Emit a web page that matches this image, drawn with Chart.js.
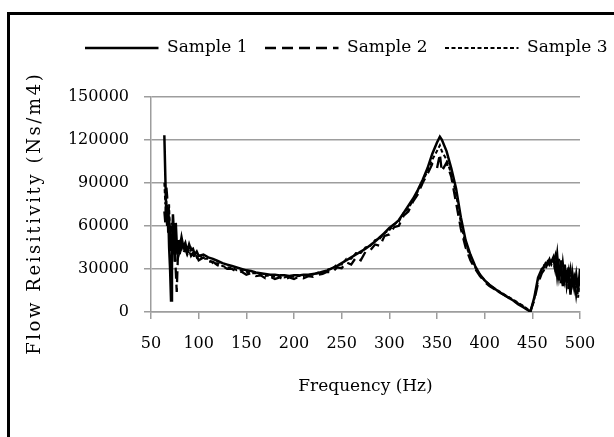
<!DOCTYPE html>
<html>
<head>
<meta charset="utf-8">
<script src="https://cdn.jsdelivr.net/npm/chart.js@4/dist/chart.umd.min.js"></script>
<style>
html,body{margin:0;padding:0;background:#fff;overflow:hidden}
#wrap{position:relative;width:614px;height:437px;overflow:hidden}
#frame{position:absolute;left:7px;top:12px;width:700px;height:600px;border-top:3px solid #000;border-left:3px solid #000}
canvas{position:absolute;left:0;top:0}
</style>
</head>
<body>
<div id="wrap"><div id="frame"></div><canvas id="c" width="614" height="437"></canvas></div>
<script>
// Frequency (Hz)
const freq = [
  64,65,66,67,68,69,70,71,72,73,74,75,76,77,78,79,80,
  82,84,86,88,90,92,94,96,98,100,
  105,110,115,120,125,130,135,140,145,150,155,160,165,170,175,180,185,190,195,200,
  205,210,215,220,225,230,235,240,245,250,255,260,265,270,275,280,285,290,295,300,
  305,310,315,320,325,330,335,340,345,350,
  353,
  355,360,365,370,375,380,385,390,395,400,405,410,415,420,425,430,435,440,445,
  448,452,456,
  460,462,464,466,468,470,472,474,476,478,480,482,484,486,488,490,492,494,496,498,500
];
const sample1 = [
  123000,95000,68000,60000,72000,45000,30000,8000,40000,68000,55000,35000,62000,48000,40000,50000,44000,
  52000,45000,48000,42000,47000,43000,44000,40000,42000,39000,
  40000,38000,37000,35500,34000,33000,32000,31000,30000,29000,28500,27500,27000,26500,26000,26000,25500,25500,25000,25500,
  25500,26000,26000,26500,27000,28000,29000,30500,32000,34000,36000,38000,40000,42000,44000,46500,49000,52000,55000,58500,
  61000,64000,69000,74000,79000,85000,92000,100000,110000,118000,
  122000,
  120000,112000,100000,86000,66000,50000,40000,32000,26000,22000,19000,16500,14000,12000,10000,8000,5500,3500,1500,
  0,10000,24000,
  30000,31000,34000,33000,36000,35000,38000,30000,40000,22000,36000,18000,33000,20000,31000,12000,27000,17000,26000,14000,30000
];
const sample2 = [
  70000,62000,88000,80000,55000,68000,42000,60000,50000,40000,58000,45000,28000,14000,35000,48000,40000,
  46000,41000,44000,40000,43000,39000,41000,37000,39000,36000,
  38000,35000,35000,32500,32000,30000,30000,28000,28000,26000,27000,25000,25500,23500,24500,23000,24000,22500,24000,23000,
  24500,23500,25000,24500,26000,26500,28000,27500,31000,30500,34500,33000,38000,36000,42000,43000,47000,46000,53000,54000,
  59000,60000,67000,70000,77000,82000,90000,96000,103000,100000,
  110000,
  98000,104000,94000,76000,58000,45000,36000,30000,25000,21000,18000,16000,14000,12000,10000,8000,6000,4000,2000,
  1000,8000,20000,
  27000,29000,32000,35000,33000,37000,34000,39000,25000,37000,20000,34000,22000,30000,16000,29000,19000,24000,12000,22000,20000
];
const sample3 = [
  90000,75000,80000,62000,58000,75000,50000,55000,62000,45000,50000,55000,42000,50000,46000,44000,48000,
  44000,47000,42000,45000,41000,44000,40000,41000,38000,40000,
  37000,37000,34000,34000,32000,31000,31000,29000,29000,28000,27000,27000,26000,25000,25500,24500,25000,24000,25000,24500,
  25000,25000,26000,26000,27500,27500,29500,30000,33000,33000,37000,37000,41000,41000,45000,46000,50000,51000,55000,57000,
  61000,63000,69000,72000,78000,84000,91000,98000,106000,112000,
  116000,
  112000,106000,96000,82000,62000,47000,38000,31000,26000,22000,19000,16500,14500,12500,10500,8500,6500,4500,2000,
  500,9000,22000,
  28000,32000,30000,34000,37000,33000,36000,28000,38000,24000,35000,19000,32000,18000,28000,14000,26000,17000,22000,10000,26000
];
const seriesNames = ['Sample 1', 'Sample 2', 'Sample 3'];
const xTitle = 'Frequency (Hz)';
const yTitle = 'Flow Reisitivity (Ns/m4)';

const FONT = "'DejaVu Serif', serif";
const GRID = '#9d9d9d';
const pts = arr => arr.map((v, i) => ({x: freq[i], y: v}));

const yTitlePlugin = {
  id: 'yTitle',
  afterDraw(chart) {
    const ctx = chart.ctx;
    const a = chart.chartArea;
    ctx.save();
    ctx.font = '18px ' + FONT;
    ctx.fillStyle = '#000';
    ctx.textAlign = 'center';
    ctx.textBaseline = 'middle';
    if ('letterSpacing' in ctx) ctx.letterSpacing = '2.6px';
    ctx.translate(35, (a.top + a.bottom) / 2 + 9);
    ctx.rotate(-Math.PI / 2);
    ctx.fillText(yTitle, 0, 0);
    ctx.restore();
  }
};

new Chart(document.getElementById('c'), {
  type: 'line',
  data: {
    datasets: [
      {label: seriesNames[0], data: pts(sample1), borderColor: '#000', backgroundColor: 'rgba(0,0,0,0)', borderWidth: 2.5, pointRadius: 0, tension: 0, fill: false},
      {label: seriesNames[1], data: pts(sample2), borderColor: '#000', backgroundColor: 'rgba(0,0,0,0)', borderWidth: 2.3, borderDash: [11, 6], pointRadius: 0, tension: 0, fill: false},
      {label: seriesNames[2], data: pts(sample3), borderColor: '#000', backgroundColor: 'rgba(0,0,0,0)', borderWidth: 2, borderDash: [4, 2.5], pointRadius: 0, tension: 0, fill: false}
    ]
  },
  options: {
    responsive: false,
    animation: false,
    devicePixelRatio: 1,
    layout: {padding: {left: 0, right: -11, top: 22, bottom: 40}},
    plugins: {
      tooltip: {enabled: false},
      title: {display: true, text: ' ', weight: 500, font: {size: 10}, padding: {top: 0, bottom: 18}},
      legend: {
        position: 'top',
        align: 'end',
        labels: {boxWidth: 73.5, boxHeight: 0, padding: 17.5, color: '#000', font: {family: FONT, size: 17}}
      }
    },
    scales: {
      x: {
        type: 'linear',
        min: 50, max: 500,
        ticks: {stepSize: 50, color: '#000', padding: 15, font: {family: FONT, size: 16}, maxRotation: 0,
                callback: v => String(v)},
        grid: {drawOnChartArea: false, drawTicks: true, tickLength: 7, color: GRID, lineWidth: 1.5},
        border: {color: GRID, width: 1.5},
        title: {display: true, text: xTitle, color: '#000', font: {family: FONT, size: 17}, padding: {top: 0, bottom: 0}},
        afterFit(s) { s.height = 85; s.paddingRight = 34; }
      },
      y: {
        min: 0, max: 150000,
        ticks: {stepSize: 30000, color: '#000', padding: 15, font: {family: FONT, size: 16},
                callback: v => String(v)},
        grid: {color: GRID, lineWidth: 1.5, tickLength: 7},
        border: {color: GRID, width: 1.5},
        afterFit(s) { s.width = 151; }
      }
    }
  },
  plugins: [yTitlePlugin]
});
</script>
</body>
</html>
